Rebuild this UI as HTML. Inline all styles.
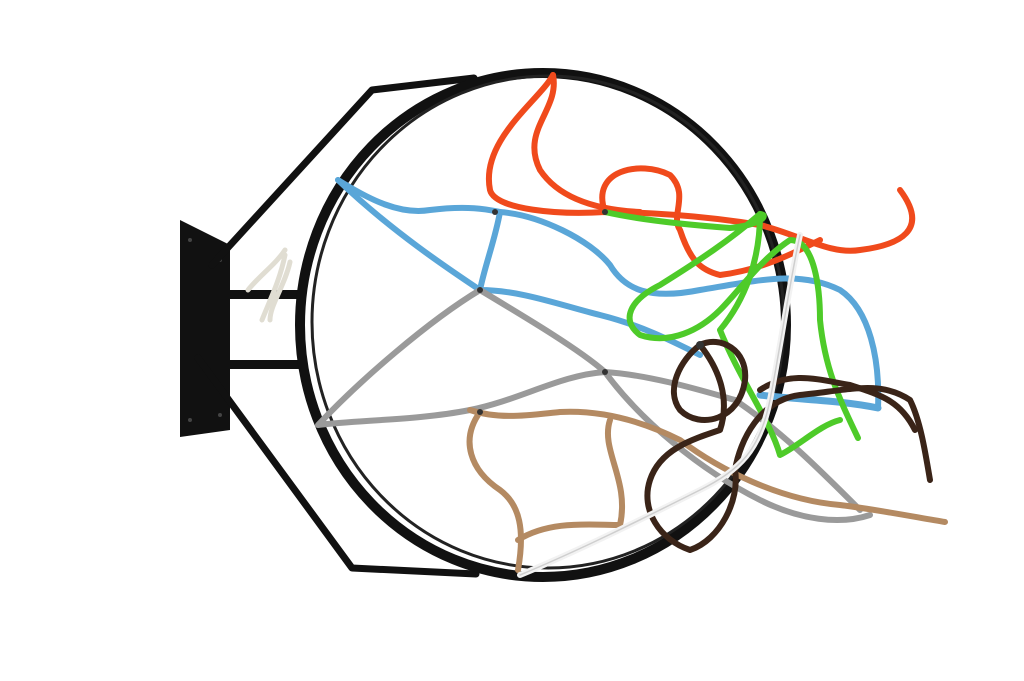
<!DOCTYPE html>
<html><head><meta charset="utf-8"><style>
html,body{margin:0;padding:0;background:#fff;width:1024px;height:681px;overflow:hidden}
</style></head><body>
<svg width="1024" height="681" viewBox="0 0 1024 681" xmlns="http://www.w3.org/2000/svg">
<rect width="1024" height="681" fill="#fff"/>
<polygon points="180,220 230,245 230,430 180,437" fill="#111"/>
<g fill="#444"><circle cx="190" cy="240" r="2"/><circle cx="190" cy="420" r="2"/><circle cx="220" cy="260" r="2"/><circle cx="220" cy="415" r="2"/></g>
<rect x="225" y="290" width="80" height="9" fill="#111"/>
<rect x="225" y="360" width="75" height="9" fill="#111"/>
<g fill="none" stroke="#111" stroke-width="7" stroke-linejoin="round" stroke-linecap="round">
<polyline points="212,265 372,90 474,78"/>
<polyline points="198,358 352,568 476,574"/>
</g>
<ellipse cx="543" cy="325" rx="243" ry="252" fill="none" stroke="#111" stroke-width="10"/>
<ellipse cx="548" cy="322" rx="236" ry="246" fill="none" stroke="#222" stroke-width="3"/>
<g fill="none" stroke-width="6" stroke-linecap="round" stroke-linejoin="round">
<path d="M553,75 C540,100 480,140 490,190 C495,210 560,215 605,212 C640,212 700,215 760,225 C800,235 830,255 860,250 C900,245 930,230 900,190" stroke="#f04a1c"/>
<path d="M553,75 C560,110 520,130 540,170 C560,200 600,210 640,212" stroke="#f04a1c"/>
<path d="M605,212 C590,170 640,160 670,175 C690,195 670,215 680,230 C690,260 700,270 720,275 C760,270 790,255 820,240" stroke="#f04a1c"/>
<path d="M338,180 C370,200 400,215 430,210 C470,205 490,210 500,212 C540,215 590,240 610,265 C625,290 650,300 700,290 C760,280 800,270 840,290 C870,310 880,360 878,408" stroke="#5aa6d8"/>
<path d="M338,180 C390,230 450,270 480,290 C520,290 560,305 600,315 C640,325 670,340 700,355" stroke="#5aa6d8"/>
<path d="M500,212 C495,240 485,265 480,290" stroke="#5aa6d8"/>
<path d="M760,395 C800,400 840,400 878,408" stroke="#5aa6d8" stroke-width="7"/>
<path d="M480,290 C430,320 360,380 318,425 C360,420 420,420 470,410 C520,400 560,375 605,372 C650,375 700,390 735,400" stroke="#9a9a9a"/>
<path d="M480,290 C530,320 580,350 605,372 C640,420 700,470 760,500 C800,520 840,525 870,515" stroke="#9a9a9a"/>
<path d="M735,400 C780,430 820,470 860,510" stroke="#9a9a9a"/>
<path d="M470,410 C500,420 530,415 560,412 C600,410 640,420 680,440 C720,470 780,500 840,505 C880,510 920,518 945,522" stroke="#b48a62"/>
<path d="M480,412 C460,440 470,470 500,490 C520,505 525,530 518,570" stroke="#b48a62"/>
<path d="M518,540 C550,520 590,525 620,525 C630,480 600,450 610,420" stroke="#b48a62"/>
<path d="M605,212 C640,220 690,225 730,228 C760,225 770,215 760,214 C730,240 700,260 660,285 C630,300 620,320 640,335 C670,345 700,330 720,310 C740,290 760,260 790,240 C815,240 820,290 820,320 C825,370 840,400 858,438" stroke="#4ecb29"/>
<path d="M760,214 C760,260 745,300 720,330 C740,380 770,420 780,455 C800,445 820,425 840,420" stroke="#4ecb29"/>
<path d="M700,345 C680,360 665,390 680,410 C700,430 740,420 745,380 C748,350 720,335 700,345 Z" stroke="#3a2418"/>
<path d="M700,345 C720,370 730,400 720,430 C690,440 660,450 650,480 C640,510 660,540 690,550 C720,540 740,500 735,470 C740,440 760,400 800,395 C850,390 880,380 910,400 C920,420 925,450 930,480" stroke="#3a2418"/>
<path d="M760,390 C790,370 820,380 850,385 C880,395 900,400 915,430" stroke="#3a2418"/>
<path d="M800,235 C790,280 780,350 770,400 C760,450 740,470 700,490 C640,520 580,550 520,575" stroke="#f2f2f2" stroke-width="6"/>
<path d="M800,235 C790,280 780,350 770,400 C760,450 740,470 700,490 C640,520 580,550 520,575" stroke="#cfcfcf" stroke-width="1.5"/>
<path d="M285,250 C275,265 260,275 248,290 M285,255 C280,280 270,300 262,320 M290,262 C285,285 270,305 270,320" stroke="#e0ddd2" stroke-width="5"/>
</g>
<g fill="#333"><circle cx="495" cy="212" r="3"/><circle cx="605" cy="212" r="3"/><circle cx="480" cy="290" r="3"/><circle cx="605" cy="372" r="3"/><circle cx="480" cy="412" r="3"/><circle cx="700" cy="345" r="4"/></g>
</svg>
</body></html>
